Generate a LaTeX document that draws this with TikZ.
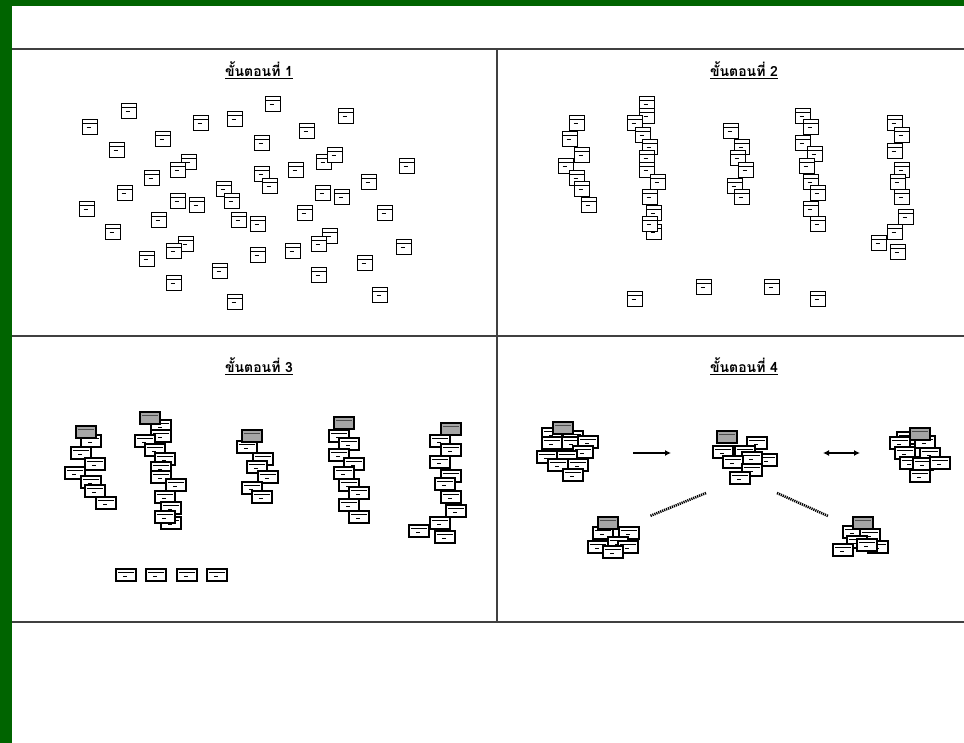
\documentclass[tikz,border=0pt]{standalone}
\usepackage{fontspec}
\newfontfamily\thaifont[Script=Thai]{Loma}
\usetikzlibrary{arrows.meta}
\definecolor{frameg}{RGB}{0,100,0}
\definecolor{rulec}{RGB}{64,64,64}
\tikzset{
  sq/.style={draw=black, line width=1.2pt, fill=white, minimum width=15pt, minimum height=15pt, inner sep=0pt, outer sep=0pt,
    path picture={\draw[line width=0.7pt] ([yshift=-4pt]path picture bounding box.north west) -- ([yshift=-4pt]path picture bounding box.north east);
      \draw[line width=0.9pt] ([xshift=4pt,yshift=-8pt]path picture bounding box.north west) -- ++(4pt,0);}},
  card/.style={draw=black, line width=1.2pt, fill=white, minimum width=20pt, minimum height=12pt, inner sep=0pt, outer sep=0pt,
    path picture={\draw[line width=0.6pt] ([xshift=2pt,yshift=-3pt]path picture bounding box.north west) -- ([xshift=-2pt,yshift=-3pt]path picture bounding box.north east);
      \draw[line width=0.8pt] ([xshift=7pt,yshift=-7pt]path picture bounding box.north west) -- ++(4pt,0);}},
  gcard/.style={card, fill=gray!70,
    path picture={\draw[line width=0.6pt, black!70] ([xshift=2pt,yshift=-3pt]path picture bounding box.north west) -- ([xshift=-2pt,yshift=-3pt]path picture bounding box.north east);}},
  head/.style={font=\thaifont\bfseries\fontsize{14}{16}\selectfont, inner sep=0pt},
  grid/.style={draw=rulec, line width=1.3pt},
  flow/.style={line width=1.8pt, -{Latex[length=6pt,width=6pt]}},
  biflow/.style={line width=1.8pt, {Latex[length=6pt,width=6pt]}-{Latex[length=6pt,width=6pt]}},
  link/.style={line width=2.6pt, dash pattern=on 1.2pt off 0.9pt},
}
\begin{document}
\begin{tikzpicture}[x=1pt,y=-1pt]
\useasboundingbox (0,0) rectangle (964,743);
\fill[white] (0,0) rectangle (964,743);
% frame
\fill[frameg] (0,0) rectangle (964,6);
\fill[frameg] (0,0) rectangle (12,743);
% table rules
\draw[grid] (12,49) -- (964,49);
\draw[grid] (12,336) -- (964,336);
\draw[grid] (12,622) -- (964,622);
\draw[grid] (497,49) -- (497,622);
% headings
\node[head] (h1) at (259,70) {\underline{ขั้นตอนที่ 1}};
\node[head] (h2) at (744,70) {\underline{ขั้นตอนที่ 2}};
\node[head] (h3) at (259,366) {\underline{ขั้นตอนที่ 3}};
\node[head] (h4) at (744,366) {\underline{ขั้นตอนที่ 4}};
% panel 1: scattered documents
\foreach \x/\y [count=\i] in {129/111,273/104,90/127,201/123,235/119,346/116,307/131,163/139,117/150,262/143,
  189/162,178/170,324/162,335/155,296/170,262/174,270/186,152/178,407/166,369/182,
  125/193,224/189,232/201,178/201,197/205,323/193,342/197,87/209,305/213,385/213,
  159/220,239/220,258/224,113/232,186/244,174/251,330/236,319/244,293/251,258/255,
  147/259,404/247,365/263,220/271,319/275,174/283,380/295,235/302}
  \node[sq] (a\i) at (\x,\y) {};
% panel 2: columns of documents
\foreach \x/\y [count=\i] in {577/123,570/139,582/155,566/166,577/178,582/189,589/205}
  \node[sq] (b1\i) at (\x,\y) {};
\foreach \x/\y [count=\i] in {647/104,647/116,635/123,643/135,650/147,647/158,647/170,658/182,650/197,654/232,654/213,650/224}
  \node[sq] (b2\i) at (\x,\y) {};
\foreach \x/\y [count=\i] in {731/131,742/147,738/158,746/170,735/186,742/197}
  \node[sq] (b3\i) at (\x,\y) {};
\foreach \x/\y [count=\i] in {803/116,811/127,803/143,815/154,807/166,811/182,818/193,811/209,818/224}
  \node[sq] (b4\i) at (\x,\y) {};
\foreach \x/\y [count=\i] in {895/123,902/135,895/151,902/170,898/182,902/197,906/217,895/232,879/243,898/252}
  \node[sq] (b5\i) at (\x,\y) {};
\foreach \x/\y [count=\i] in {635/299,704/287,772/287,818/299}
  \node[sq] (b6\i) at (\x,\y) {};
% panel 3: ordered columns with grey header cards
\foreach \x/\y [count=\i] in {91/441,81/453,95/464,75/473,91/482,95/491,106/503}
  \node[card] (c1\i) at (\x,\y) {};
\node[gcard] (c1g) at (86,432) {};
\foreach \x/\y [count=\i] in {161/426,161/436,145/441,155/450,165/459,161/468,161/477,176/485,165/497,171/508,171/523,165/517}
  \node[card] (c2\i) at (\x,\y) {};
\node[gcard] (c2g) at (150,418) {};
\foreach \x/\y [count=\i] in {247/447,263/459,257/467,268/477,252/488,262/497}
  \node[card] (c3\i) at (\x,\y) {};
\node[gcard] (c3g) at (252,436) {};
\foreach \x/\y [count=\i] in {339/436,349/444,339/455,354/464,344/473,349/485,359/493,349/505,359/517}
  \node[card] (c4\i) at (\x,\y) {};
\node[gcard] (c4g) at (344,423) {};
\foreach \x/\y [count=\i] in {440/441,451/450,440/462,451/476,445/484,451/497,456/511,440/523,419/531,445/537}
  \node[card] (c5\i) at (\x,\y) {};
\node[gcard] (c5g) at (451,429) {};
\foreach \x/\y [count=\i] in {126/575,156/575,187/575,217/575}
  \node[card] (c6\i) at (\x,\y) {};
% panel 4: clusters
\foreach \x/\y [count=\i] in {552/434,573/437,552/443,572/443,588/442,583/452,547/457,567/457,558/465,578/465,573/475}
  \node[card] (dA\i) at (\x,\y) {};
\node[gcard] (dAg) at (563,428) {};
\foreach \x/\y [count=\i] in {757/443,723/452,745/452,767/460,752/458,733/462,752/470,740/478}
  \node[card] (dB\i) at (\x,\y) {};
\node[gcard] (dBg) at (727,437) {};
\foreach \x/\y [count=\i] in {907/438,900/443,925/442,905/453,930/454,910/463,923/464,940/463,920/476}
  \node[card] (dC\i) at (\x,\y) {};
\node[gcard] (dCg) at (920,434) {};
\foreach \x/\y [count=\i] in {603/533,629/533,618/543,598/547,628/547,613/552}
  \node[card] (dD\i) at (\x,\y) {};
\node[gcard] (dDg) at (608,523) {};
\foreach \x/\y [count=\i] in {853/532,870/535,878/547,857/542,867/545,843/550}
  \node[card] (dE\i) at (\x,\y) {};
\node[gcard] (dEg) at (863,523) {};
% connectors
\coordinate (r1) at (633,453); \coordinate (r2) at (671,453);
\coordinate (s1) at (823,453); \coordinate (s2) at (860,453);
\coordinate (l1) at (706,493); \coordinate (l2) at (650,516);
\coordinate (m1) at (777,493); \coordinate (m2) at (828,516);
\draw[flow] (r1) -- (r2);
\draw[biflow] (s1) -- (s2);
\draw[link] (l1) -- (l2);
\draw[link] (m1) -- (m2);
\end{tikzpicture}
\end{document}
